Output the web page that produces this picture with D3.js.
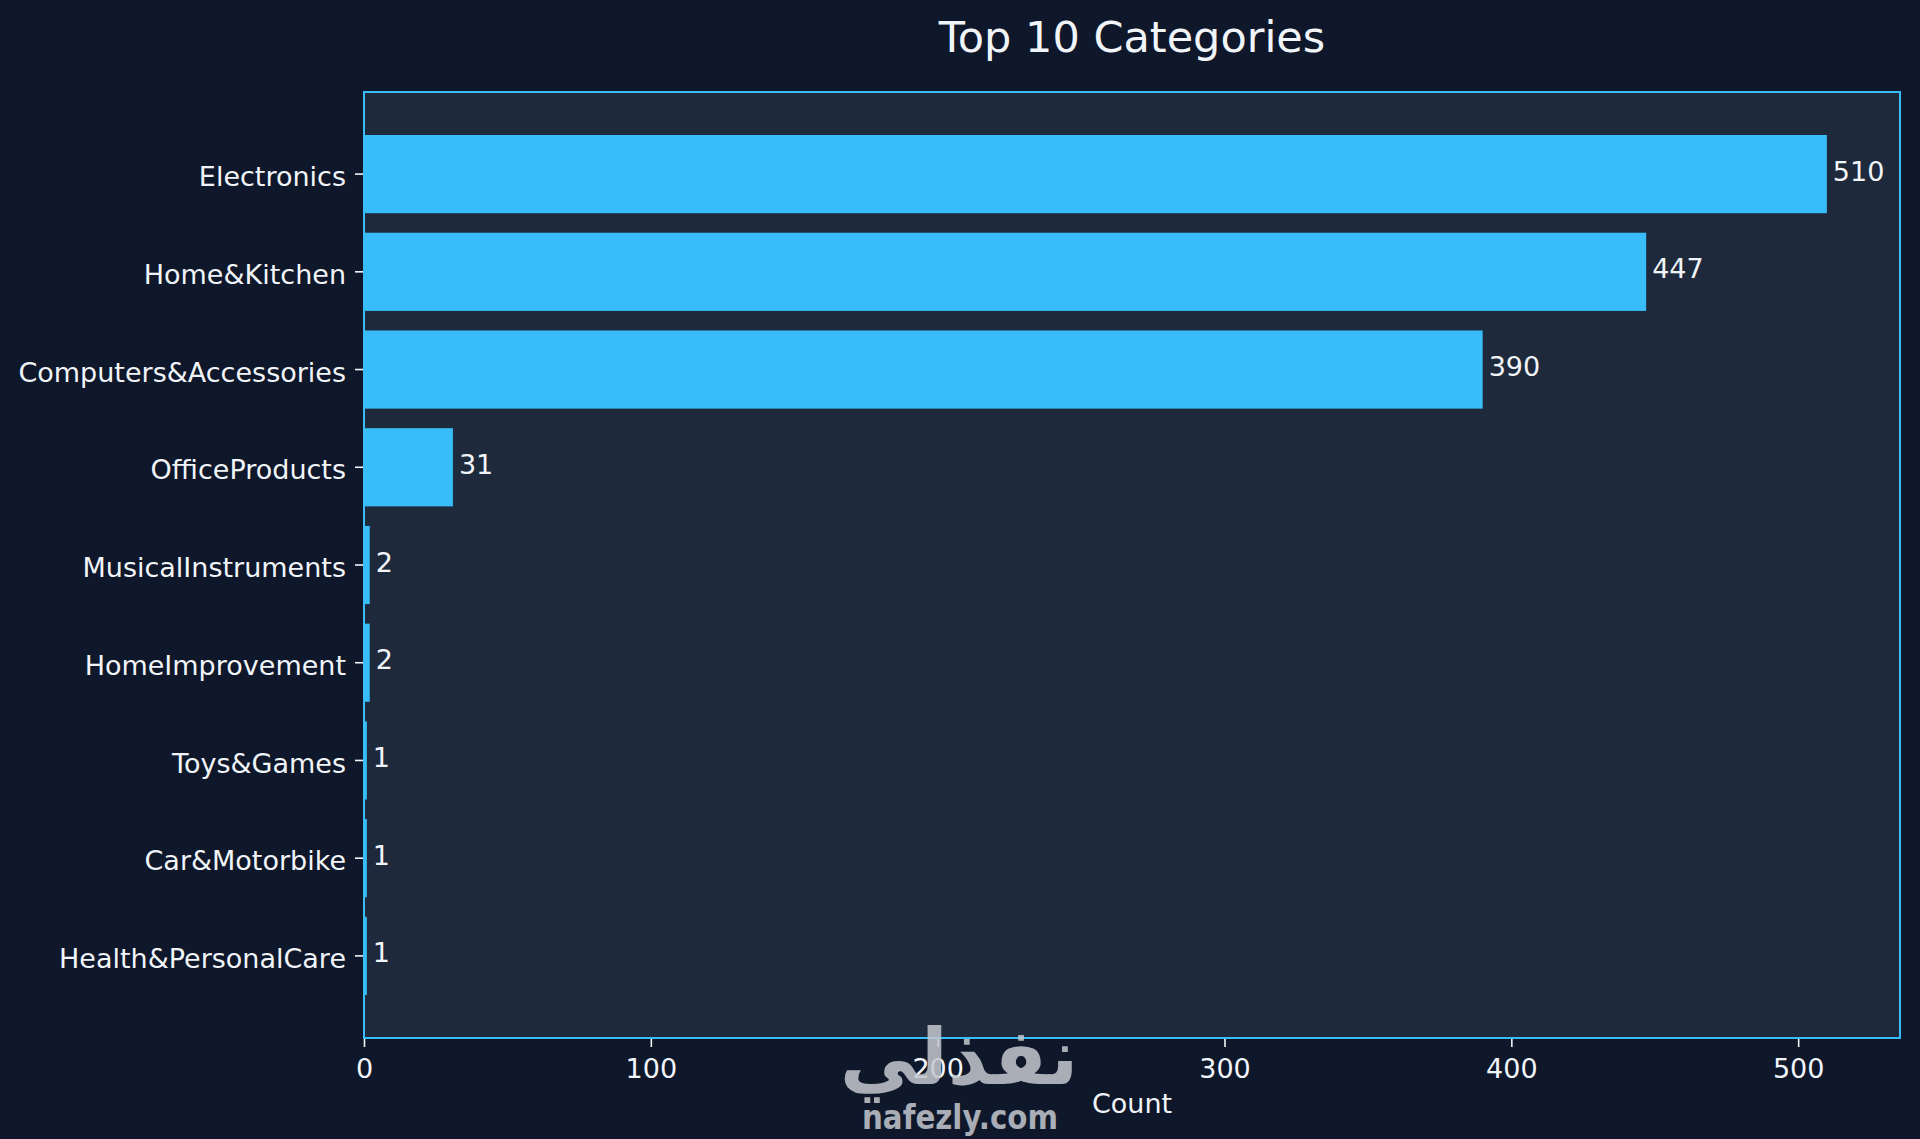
<!DOCTYPE html>
<html>
<head>
<meta charset="utf-8">
<script src="https://cdn.jsdelivr.net/npm/d3@7"></script>
<style>
  html, body { margin: 0; padding: 0; background: #0f172a; }
  svg { display: block; }
  text { font-family: "DejaVu Sans", sans-serif; }
</style>
</head>
<body>
<svg id="chart" width="1920" height="1139"></svg>
<script>
// data
const categories = ['Electronics', 'Home&Kitchen', 'Computers&Accessories', 'OfficeProducts',
  'MusicalInstruments', 'HomeImprovement', 'Toys&Games', 'Car&Motorbike', 'Health&PersonalCare'];
const counts = [510, 447, 390, 31, 2, 2, 1, 1, 1];
const xTicks = [0, 100, 200, 300, 400, 500];
const titleText = 'Top 10 Categories';
const xLabel = 'Count';

const data = categories.map((c, i) => ({ category: c, count: counts[i] }));

const svg = d3.select('#chart');
const W = +svg.attr('width');
const H = +svg.attr('height');
const margin = { top: 92, right: 20, bottom: 101, left: 364 };
const width = W - margin.left - margin.right;
const height = H - margin.top - margin.bottom;

const textColor = '#f1f5f9';
const barColor = '#38bdf8';
const fontSize = 27;

svg.append('rect').attr('width', W).attr('height', H).attr('fill', '#0f172a');

const g = svg.append('g').attr('transform', `translate(${margin.left},${margin.top})`);

g.append('rect')
  .attr('width', width)
  .attr('height', height)
  .attr('fill', '#1e293b');

const x = d3.scaleLinear()
  .domain([0, d3.max(counts) * 1.05])
  .range([0, width]);

const y = d3.scaleBand()
  .domain(categories)
  .range([0, height])
  .paddingInner(0.2)
  .paddingOuter(0.44);

g.selectAll('.bar')
  .data(data)
  .enter().append('rect')
  .attr('class', 'bar')
  .attr('x', x(0))
  .attr('y', d => y(d.category))
  .attr('width', d => x(d.count) - x(0))
  .attr('height', y.bandwidth())
  .attr('fill', barColor);

g.selectAll('.val')
  .data(data)
  .enter().append('text')
  .attr('class', 'val')
  .attr('x', d => x(d.count) + 6)
  .attr('y', d => y(d.category) + y.bandwidth() / 2 - 3)
  .attr('dominant-baseline', 'central')
  .attr('fill', textColor)
  .attr('font-size', fontSize)
  .text(d => d.count);

// axes
const xAxis = g.append('g')
  .attr('transform', `translate(0,${height})`)
  .call(d3.axisBottom(x).tickValues(xTicks).tickSize(9).tickPadding(12));
xAxis.select('.domain').remove();
xAxis.selectAll('line').attr('stroke', textColor).attr('stroke-width', 1.6);
xAxis.selectAll('text').attr('fill', textColor).attr('font-size', fontSize)
  .style('font-family', '"DejaVu Sans", sans-serif');

const yAxis = g.append('g')
  .call(d3.axisLeft(y).tickSize(9).tickPadding(9));
yAxis.select('.domain').remove();
yAxis.selectAll('line').attr('stroke', textColor).attr('stroke-width', 1.6);
yAxis.selectAll('text').attr('fill', textColor).attr('font-size', fontSize)
  .attr('dy', '0.45em')
  .style('font-family', '"DejaVu Sans", sans-serif');

// frame
g.append('rect')
  .attr('width', width)
  .attr('height', height)
  .attr('fill', 'none')
  .attr('stroke', barColor)
  .attr('stroke-width', 2);

svg.append('text')
  .attr('x', margin.left + width / 2)
  .attr('y', 52)
  .attr('text-anchor', 'middle')
  .attr('fill', textColor)
  .attr('font-size', 43)
  .text(titleText);

svg.append('text')
  .attr('x', margin.left + width / 2)
  .attr('y', 1113)
  .attr('text-anchor', 'middle')
  .attr('fill', textColor)
  .attr('font-size', fontSize)
  .text(xLabel);

// watermark overlay (sits on top of the axis in the original too)
const wm = svg.append('g').attr('opacity', 0.85).attr('fill', '#c4c8ce');
wm.append('text')
  .attr('x', 959)
  .attr('y', 1084)
  .attr('text-anchor', 'middle')
  .attr('font-size', 78)
  .attr('font-weight', 'bold')
  .attr('direction', 'rtl')
  .text('نفذلي');
wm.append('text')
  .attr('x', 960)
  .attr('y', 1129)
  .attr('text-anchor', 'middle')
  .attr('font-size', 34)
  .attr('font-weight', 'bold')
  .attr('textLength', 196)
  .attr('lengthAdjust', 'spacingAndGlyphs')
  .text('nafezly.com');
</script>
</body>
</html>
